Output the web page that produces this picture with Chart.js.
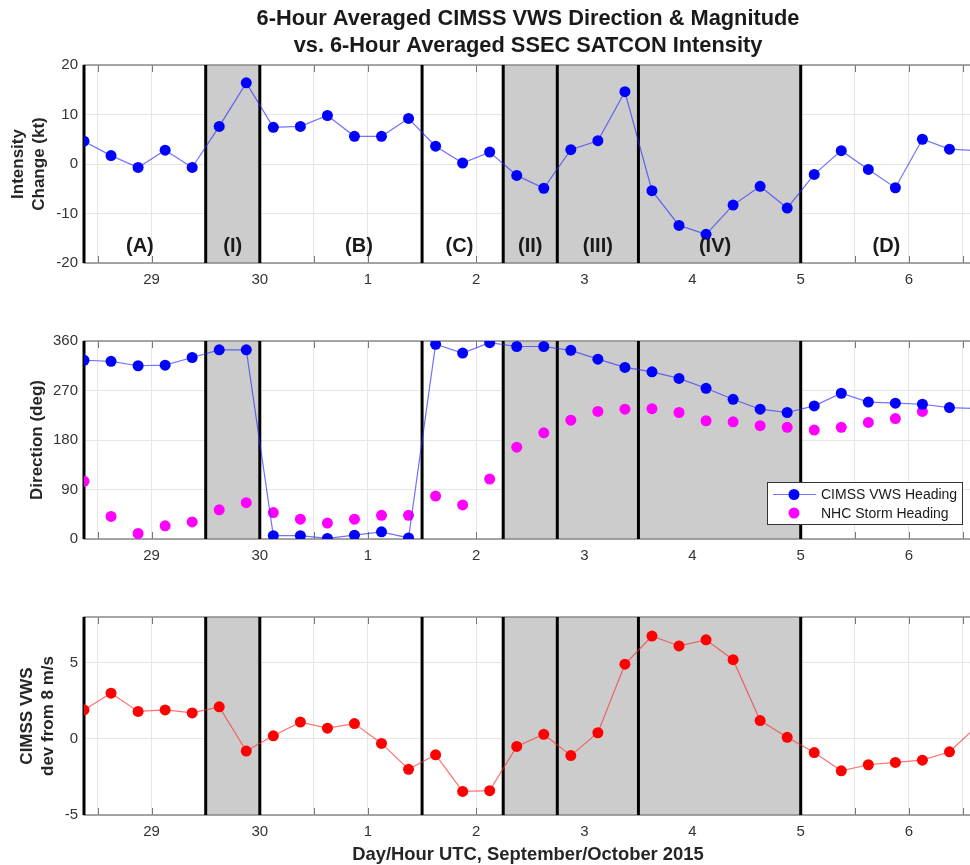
<!DOCTYPE html>
<html>
<head>
<meta charset="utf-8">
<script src="https://cdn.jsdelivr.net/npm/chart.js@4.4.1/dist/chart.umd.min.js"></script>
<style>
  html, body { margin: 0; padding: 0; background: #fff; overflow: hidden; }
  #wrap { position: relative; width: 970px; height: 865px; overflow: hidden; }
  canvas { position: absolute; left: 0; }
</style>
</head>
<body>
<div id="wrap">
  <canvas id="c1" width="980" height="300" style="top:0"></canvas>
  <canvas id="c2" width="980" height="276" style="top:300px"></canvas>
  <canvas id="c3" width="980" height="289" style="top:576px"></canvas>
</div>
<script>
// hours after 28 Sep 00 UTC, one value per 6-h average
const hours = [9, 15, 21, 27, 33, 39, 45, 51, 57, 63, 69, 75, 81, 87, 93, 99, 105,
  111, 117, 123, 129, 135, 141, 147, 153, 159, 165, 171, 177, 183, 189, 195, 201, 207];
// SATCON intensity change (kt)
const intensityChange = [4.6, 1.7, -0.7, 2.8, -0.7, 7.6, 16.4, 7.4, 7.6, 9.8, 5.6, 5.6, 9.2,
  3.6, 0.2, 2.4, -2.3, -4.9, 2.9, 4.7, 14.6, -5.4, -12.4, -14.2, -8.3, -4.5, -8.9,
  -2.1, 2.7, -1.1, -4.8, 5.0, 3.0, 2.7];
// CIMSS VWS heading (deg)
const vwsHeading = [325, 323, 315, 316, 330, 344, 344, 6, 6, 1, 7, 13, 2, 354, 338, 357,
  350, 350, 343, 327, 312, 304, 292, 274, 254, 236, 230, 242, 265, 249, 247, 245, 239, 237];
// NHC storm heading (deg)
const stormHeading = [105, 41, 10, 24, 31, 53, 66, 48, 36, 29, 36, 43, 43, 78, 62, 109,
  167, 193, 216, 232, 236, 237, 230, 215, 213, 206, 203, 198, 203, 212, 219, 232, null, null];
// CIMSS VWS deviation from 8 m/s
const vwsDev = [1.9, 3.0, 1.8, 1.9, 1.7, 2.1, -0.8, 0.2, 1.1, 0.7, 1.0, -0.3, -2.0, -1.05,
  -3.45, -3.4, -0.5, 0.3, -1.1, 0.4, 4.9, 6.75, 6.1, 6.5, 5.2, 1.2, 0.1, -0.9, -2.1, -1.7,
  -1.55, -1.4, -0.85, 0.8];

// x axis: grid every 12 h, labels at 00 UTC
const gridHours = [12, 24, 36, 48, 60, 72, 84, 96, 108, 120, 132, 144, 156, 168, 180, 192, 204];
const dayHours = [24, 48, 72, 96, 120, 144, 168, 192];
const dayLabels = ['29', '30', '1', '2', '3', '4', '5', '6'];

// periods
const boundaryHours = [9, 36, 48, 84, 102, 114, 132, 168];
const shadedSpans = [[36, 48], [102, 114], [114, 132], [132, 168]];
const periodNames = ['(A)', '(I)', '(B)', '(C)', '(II)', '(III)', '(IV)', '(D)'];
const periodNameHours = [21.4, 42, 70, 92.3, 108, 123, 149, 187];

const FONT = '"Liberation Sans", Arial, Helvetica, sans-serif';
Chart.defaults.font.family = FONT;
Chart.defaults.color = '#333';

const pts = vals => hours.map((h, i) => ({ x: h, y: vals[i] }));

// shading, black period lines, frame and inward ticks
const periodPlugin = {
  id: 'periods',
  beforeDatasetsDraw(chart) {
    const { ctx, chartArea: a, scales: { x } } = chart;
    ctx.save();
    ctx.strokeStyle = '#777';
    ctx.lineWidth = 1;
    gridHours.forEach(h => {
      const px = Math.round(x.getPixelForValue(h)) + 0.5;
      ctx.beginPath();
      ctx.moveTo(px, a.bottom); ctx.lineTo(px, a.bottom - 7);
      ctx.moveTo(px, a.top); ctx.lineTo(px, a.top + 7);
      ctx.stroke();
    });
    ctx.fillStyle = '#cccccc';
    shadedSpans.forEach(([h0, h1]) => {
      const x0 = x.getPixelForValue(h0), x1 = x.getPixelForValue(h1);
      ctx.fillRect(x0, a.top, x1 - x0, a.bottom - a.top);
    });
    ctx.strokeStyle = '#8a8a8a';
    ctx.lineWidth = 1.5;
    ctx.strokeRect(a.left, a.top, a.right - a.left, a.bottom - a.top);
    ctx.strokeStyle = '#000';
    ctx.lineWidth = 3;
    boundaryHours.forEach(h => {
      const px = x.getPixelForValue(h);
      ctx.beginPath();
      ctx.moveTo(px, a.top); ctx.lineTo(px, a.bottom);
      ctx.stroke();
    });
    ctx.restore();
  }
};

// (A) (I) ... labels in top panel
const namesPlugin = {
  id: 'names',
  afterDatasetsDraw(chart) {
    const { ctx, scales: { x, y } } = chart;
    ctx.save();
    ctx.font = 'bold 20px ' + FONT;
    ctx.fillStyle = '#1a1a1a';
    ctx.textAlign = 'center';
    ctx.textBaseline = 'middle';
    periodNames.forEach((n, i) => {
      ctx.fillText(n, x.getPixelForValue(periodNameHours[i]), y.getPixelForValue(-16.6));
    });
    ctx.restore();
  }
};

// boxed legend inside the direction panel
const boxLegend = {
  id: 'boxLegend',
  afterDatasetsDraw(chart) {
    const { ctx, chartArea: a } = chart;
    const x0 = a.right - 205, y0 = a.bottom - 57;
    ctx.save();
    ctx.fillStyle = '#fff';
    ctx.fillRect(x0, y0, 195, 42);
    ctx.strokeStyle = '#333';
    ctx.lineWidth = 1;
    ctx.strokeRect(x0 + 0.5, y0 + 0.5, 195, 42);
    ctx.font = '14px ' + FONT;
    ctx.textBaseline = 'middle';
    chart.data.datasets.forEach((ds, i) => {
      const yy = y0 + 12.5 + i * 18.5;
      if (ds.showLine !== false) {
        ctx.strokeStyle = ds.borderColor;
        ctx.lineWidth = ds.borderWidth;
        ctx.beginPath(); ctx.moveTo(x0 + 6, yy); ctx.lineTo(x0 + 49, yy); ctx.stroke();
      }
      ctx.fillStyle = ds.pointBackgroundColor;
      ctx.beginPath(); ctx.arc(x0 + 27, yy, ds.pointRadius, 0, Math.PI * 2); ctx.fill();
      ctx.fillStyle = '#1a1a1a';
      ctx.fillText(ds.label, x0 + 54, yy + 1);
    });
    ctx.restore();
  }
};

function xAxis(showTitle) {
  return {
    type: 'linear', min: 9, max: 206,
    afterBuildTicks: s => { s.ticks = gridHours.map(v => ({ value: v })); },
    afterFit: s => { s.height = showTitle ? 50 : 37; },
    grid: { color: '#e6e6e6', drawTicks: false },
    border: { display: false },
    ticks: {
      padding: 8, color: '#333', font: { size: 15 }, maxRotation: 0, autoSkip: false,
      callback: v => { const i = dayHours.indexOf(v); return i < 0 ? '' : dayLabels[i]; }
    },
    title: {
      display: showTitle, text: 'Day/Hour UTC, September/October 2015', color: '#262626',
      font: { size: 18.4, weight: 'bold', lineHeight: 20 / 18.4 }, padding: 0
    }
  };
}

function yAxis(min, max, tickVals, title, pad) {
  return {
    min: min, max: max,
    afterBuildTicks: s => { s.ticks = tickVals.map(v => ({ value: v })); },
    afterFit: s => { s.width = 84; },
    grid: { color: '#e6e6e6', drawTicks: false },
    border: { display: false },
    ticks: { padding: 6, color: '#333', font: { size: 15 } },
    title: {
      display: true, text: title, color: '#262626',
      font: { size: 17, weight: 'bold', lineHeight: 21 / 17 }, padding: { top: pad, bottom: 0 }
    }
  };
}

function lineSet(label, vals, line, dot) {
  return {
    label: label, data: pts(vals), borderColor: line, borderWidth: 1.2,
    pointRadius: 5.5, pointBackgroundColor: dot, pointBorderWidth: 0, tension: 0
  };
}

const baseOpts = {
  responsive: false, animation: false, events: []
};

// top: intensity change
new Chart(document.getElementById('c1'), {
  type: 'line',
  data: { datasets: [lineSet('Intensity Change', intensityChange, 'rgba(40,40,255,0.65)', '#0000ff')] },
  plugins: [periodPlugin, namesPlugin],
  options: {
    ...baseOpts,
    layout: { padding: { top: 0, right: 8, left: 0, bottom: 0 } },
    plugins: {
      legend: { display: false }, tooltip: { enabled: false },
      title: {
        display: true, fullSize: false, color: '#1a1a1a',
        text: ['6-Hour Averaged CIMSS VWS Direction & Magnitude', 'vs. 6-Hour Averaged SSEC SATCON Intensity'],
        font: { size: 21.8, weight: 'bold', lineHeight: 27 / 21.8 }, padding: { top: 5, bottom: 6 }
      }
    },
    scales: {
      x: xAxis(false),
      y: yAxis(-20, 20, [-20, -10, 0, 10, 20], ['Intensity', 'Change (kt)'], 7.5)
    }
  }
});

// middle: direction
new Chart(document.getElementById('c2'), {
  type: 'line',
  data: {
    datasets: [
      lineSet('CIMSS VWS Heading', vwsHeading, 'rgba(40,40,255,0.65)', '#0000ff'),
      { ...lineSet('NHC Storm Heading', stormHeading, '#ff00ff', '#ff00ff'), showLine: false }
    ]
  },
  plugins: [periodPlugin, boxLegend],
  options: {
    ...baseOpts,
    layout: { padding: { top: 41, right: 8, left: 0, bottom: 0 } },
    plugins: { legend: { display: false }, tooltip: { enabled: false } },
    scales: {
      x: xAxis(false),
      y: yAxis(0, 360, [0, 90, 180, 270, 360], 'Direction (deg)', 27)
    }
  }
});

// bottom: shear deviation
new Chart(document.getElementById('c3'), {
  type: 'line',
  data: { datasets: [lineSet('CIMSS VWS dev', vwsDev, 'rgba(255,40,40,0.65)', '#ff0000')] },
  plugins: [periodPlugin],
  options: {
    ...baseOpts,
    layout: { padding: { top: 41, right: 8, left: 0, bottom: 0 } },
    plugins: { legend: { display: false }, tooltip: { enabled: false } },
    scales: {
      x: xAxis(true),
      y: yAxis(-5, 8, [-5, 0, 5], ['CIMSS VWS', 'dev from 8 m/s'], 16.5)
    }
  }
});
</script>
</body>
</html>
